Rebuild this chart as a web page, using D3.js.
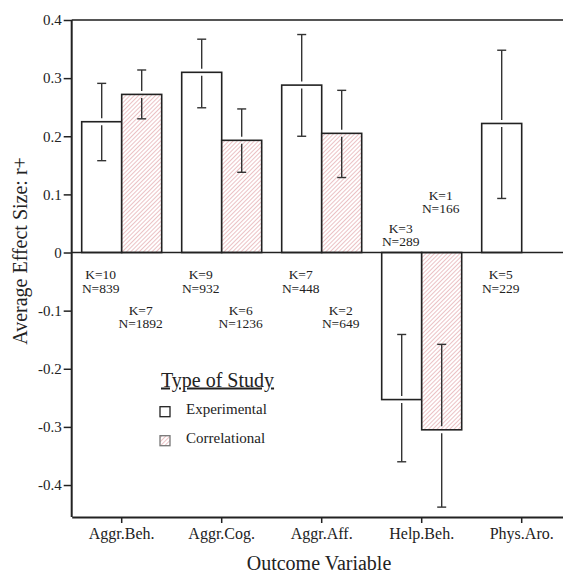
<!DOCTYPE html>
<html>
<head>
<meta charset="utf-8">
<script src="https://cdn.jsdelivr.net/npm/d3@7.9.0/dist/d3.min.js"></script>
<style>
  html, body { margin: 0; padding: 0; background: #fff; }
  svg { display: block; font-family: "Liberation Serif", "Times New Roman", serif; }
</style>
</head>
<body>
<svg id="chart" width="563" height="574"></svg>
<script>
const categories = ['Aggr.Beh.', 'Aggr.Cog.', 'Aggr.Aff.', 'Help.Beh.', 'Phys.Aro.'];

// experimental studies
const expMean = [0.225, 0.310, 0.288, -0.253, 0.222];
const expLow = [0.158, 0.249, 0.200, -0.360, 0.093];
const expHigh = [0.291, 0.367, 0.375, -0.141, 0.348];
const expK = [10, 9, 7, 3, 5];
const expN = [839, 932, 448, 289, 229];

// correlational studies (none for Phys.Aro.)
const corrMean = [0.272, 0.193, 0.205, -0.305, null];
const corrLow = [0.230, 0.138, 0.129, -0.438, null];
const corrHigh = [0.314, 0.247, 0.279, -0.158, null];
const corrK = [7, 6, 2, 1, null];
const corrN = [1892, 1236, 649, 166, null];

const yTicks = [-0.4, -0.3, -0.2, -0.1, 0, 0.1, 0.2, 0.3, 0.4];
const studyTypes = ['Experimental', 'Correlational'];

const plotLeft = 71.7, plotRight = 571.7, plotTop = 20, plotBottom = 517;

const svg = d3.select('#chart');

const defs = svg.append('defs');
defs.append('pattern')
  .attr('id', 'hatch')
  .attr('patternUnits', 'userSpaceOnUse')
  .attr('width', 3)
  .attr('height', 3)
  .attr('patternTransform', 'rotate(45)')
  .call(p => p.append('rect').attr('width', 3).attr('height', 3).attr('fill', '#fff'))
  .append('line')
  .attr('x1', 0).attr('y1', 0).attr('x2', 0).attr('y2', 3)
  .attr('stroke', '#dc8f96')
  .attr('stroke-width', 1.1);

const x0 = d3.scaleBand()
  .domain(categories)
  .range([plotLeft, plotRight])
  .paddingInner(0.2)
  .paddingOuter(0.1);

const x1 = d3.scaleBand()
  .domain(studyTypes)
  .range([0, x0.bandwidth()]);

const y = d3.scaleLinear()
  .domain([-0.455, 0.4])
  .range([plotBottom, plotTop]);

// build rows for both series
const rows = [];
categories.forEach((c, i) => {
  rows.push({ cat: c, type: 'Experimental', mean: expMean[i], lo: expLow[i], hi: expHigh[i], k: expK[i], n: expN[i] });
  if (corrMean[i] !== null) {
    rows.push({ cat: c, type: 'Correlational', mean: corrMean[i], lo: corrLow[i], hi: corrHigh[i], k: corrK[i], n: corrN[i] });
  }
});

const barX = d => x0(d.cat) + x1(d.type);
const barMid = d => barX(d) + x1.bandwidth() / 2;

// top frame line
svg.append('line')
  .attr('x1', plotLeft).attr('x2', plotRight)
  .attr('y1', y(0.4)).attr('y2', y(0.4))
  .attr('stroke', '#555').attr('stroke-width', 2);

// bars
svg.append('g')
  .selectAll('rect')
  .data(rows)
  .join('rect')
  .attr('x', barX)
  .attr('width', x1.bandwidth())
  .attr('y', d => y(Math.max(0, d.mean)))
  .attr('height', d => Math.abs(y(d.mean) - y(0)))
  .attr('fill', d => d.type === 'Experimental' ? '#fff' : 'url(#hatch)')
  .attr('stroke', '#222')
  .attr('stroke-width', 1.6);

// error bars, broken where they cross the bar end
const gap = 3.5;
const err = svg.append('g')
  .attr('stroke', '#333')
  .attr('stroke-width', 1.4)
  .attr('fill', 'none');

rows.forEach(d => {
  const cx = barMid(d);
  const yEnd = y(d.mean);
  const yHi = y(d.hi), yLo = y(d.lo);
  err.append('line').attr('x1', cx).attr('x2', cx).attr('y1', yHi).attr('y2', yEnd - gap);
  err.append('line').attr('x1', cx).attr('x2', cx).attr('y1', yEnd + gap).attr('y2', yLo);
  [yHi, yLo].forEach(v => {
    err.append('line').attr('x1', cx - 4.5).attr('x2', cx + 4.5).attr('y1', v).attr('y2', v);
  });
});

// zero line
svg.append('line')
  .attr('x1', plotLeft).attr('x2', plotRight)
  .attr('y1', y(0)).attr('y2', y(0))
  .attr('stroke', '#222').attr('stroke-width', 1.6);

// K / N labels
const labels = svg.append('g')
  .attr('font-size', 13.5)
  .attr('fill', '#222')
  .attr('text-anchor', 'middle');

rows.forEach(d => {
  let yK;
  if (d.mean >= 0) {
    yK = y(0) + (d.type === 'Experimental' ? 26.5 : 62);
  } else {
    yK = y(0) - (d.type === 'Experimental' ? 20 : 53);
  }
  const t = labels.append('text').attr('x', barMid(d) - 1).attr('y', yK);
  t.append('tspan').attr('x', barMid(d) - 1).text(`K=${d.k}`);
  t.append('tspan').attr('x', barMid(d) - 1).attr('dy', 13.5).text(`N=${d.n}`);
});

// axes
const yAxis = d3.axisLeft(y)
  .tickValues(yTicks)
  .tickSize(8)
  .tickPadding(2)
  .tickFormat(d => d === 0 ? '0' : d.toFixed(1));

const gy = svg.append('g')
  .attr('transform', `translate(${plotLeft},0)`)
  .call(yAxis);
gy.select('.domain').remove();
gy.append('line')
  .attr('x1', 0).attr('x2', 0)
  .attr('y1', plotTop).attr('y2', plotBottom)
  .attr('stroke', '#222').attr('stroke-width', 2);

const xAxis = d3.axisBottom(x0)
  .tickSize(6)
  .tickSizeOuter(0)
  .tickPadding(5);

const gx = svg.append('g')
  .attr('transform', `translate(0,${plotBottom})`)
  .call(xAxis);
gx.select('.domain').attr('stroke', '#222').attr('stroke-width', 2);

[gx, gy].forEach(g => {
  g.attr('font-family', null);
  g.selectAll('.tick line').attr('stroke', '#222').attr('stroke-width', 1.5);
  g.selectAll('.tick text').attr('fill', '#222');
});
gy.attr('font-size', 15);
gx.attr('font-size', 16);

// axis titles
svg.append('text')
  .attr('x', 319).attr('y', 570)
  .attr('text-anchor', 'middle')
  .attr('font-size', 20)
  .attr('fill', '#222')
  .text('Outcome Variable');

svg.append('text')
  .attr('transform', 'translate(27,251) rotate(-90)')
  .attr('text-anchor', 'middle')
  .attr('font-size', 20)
  .attr('fill', '#222')
  .text('Average Effect Size: r+');

// legend
const legend = svg.append('g').attr('transform', 'translate(160,0)');
legend.append('text')
  .attr('x', 1).attr('y', 386.5)
  .attr('font-size', 20)
  .attr('fill', '#222')
  .attr('text-decoration', 'underline')
  .text('Type of Study');

studyTypes.forEach((s, i) => {
  const ly = 406.7 + i * 29;
  legend.append('rect')
    .attr('x', 0).attr('y', ly)
    .attr('width', 10).attr('height', 10)
    .attr('fill', i === 0 ? '#fff' : 'url(#hatch)')
    .attr('stroke', i === 0 ? '#222' : '#777')
    .attr('stroke-width', 1.3);
  legend.append('text')
    .attr('x', 26).attr('y', ly + 7.5)
    .attr('font-size', 15)
    .attr('fill', '#222')
    .text(s);
});
</script>
</body>
</html>
